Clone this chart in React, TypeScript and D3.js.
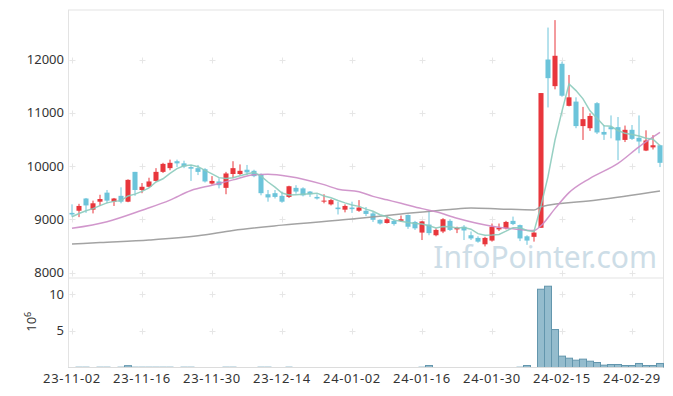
import React from "react";
import * as d3 from "d3";

// ---- data ----
const tickLabels = ["23-11-02","23-11-16","23-11-30","23-12-14","24-01-02","24-01-16","24-01-30","24-02-15","24-02-29"];
const tickEvery = 10;

const opens = [9120,9160,9390,9180,9330,9500,9330,9440,9330,9890,9550,9610,9720,9890,9960,10090,10050,9980,9960,9940,9670,9710,9590,9850,9850,9930,9910,9840,9470,9490,9440,9420,9590,9580,9520,9420,9340,9280,9220,9180,9220,9160,9160,9110,8990,8930,8970,8970,9080,8950,8750,8900,8700,8770,8970,8810,8860,8700,8650,8530,8600,8810,8830,8970,8890,8680,8670,8840,12000,11500,11920,11130,11210,10750,10710,11180,10640,10730,10730,10490,10680,10530,10290,10350,10390];
const highs = [9280,9290,9400,9350,9460,9550,9400,9600,9750,9890,9680,9780,9960,10060,10120,10120,10100,10020,10020,9960,9810,9770,9890,10090,10030,10020,9930,9860,9550,9550,9520,9630,9640,9600,9530,9470,9470,9380,9330,9280,9330,9360,9230,9140,9000,9060,9000,9070,9090,8970,8970,9160,8830,9020,9000,8860,8890,8770,8680,8670,8920,8920,8970,9050,8900,8700,8800,11370,12600,12740,11960,11710,11290,11110,10990,11200,10770,10950,10920,10760,10770,10950,10670,10580,10400];
const lows = [9050,9040,9120,9110,9250,9300,9250,9300,9320,9440,9490,9600,9710,9870,9920,9980,9960,9720,9830,9690,9650,9580,9470,9770,9830,9830,9790,9450,9330,9390,9310,9400,9480,9430,9420,9370,9300,9260,9090,9130,9120,9140,9060,8950,8900,8920,8880,8950,8820,8800,8610,8700,8680,8740,8780,8740,8610,8610,8560,8490,8580,8780,8810,8890,8590,8520,8580,8840,11100,11440,11300,11120,10710,10490,10660,10600,10490,10520,10110,10450,10490,10240,10280,10310,9980];
const closes = [9090,9250,9260,9300,9380,9350,9390,9330,9740,9550,9610,9710,9890,10040,10060,10050,9990,9950,9890,9710,9720,9640,9860,9960,9910,9880,9810,9490,9410,9420,9330,9620,9520,9450,9470,9390,9350,9360,9190,9250,9190,9220,9100,8990,8920,9000,8910,9000,8860,8830,8960,8740,8800,9000,8800,8840,8790,8640,8580,8650,8860,8840,8950,8910,8640,8600,8750,11370,11650,12070,11320,11290,10750,10880,10940,10630,10590,10690,10480,10680,10510,10460,10480,10390,10060];
// closes of the 4 sessions before the window (for the 5-day average)
const prevCloses = [8950,9000,9100,9100];
// volume, millions of shares
const volumes = [0.06,0.13,0.13,0.05,0.13,0.13,0.06,0.13,0.25,0.13,0.13,0.13,0.13,0.13,0.13,0.06,0.13,0.13,0.05,0.06,0.05,0.06,0.13,0.13,0.05,0.04,0.05,0.13,0.13,0.05,0.04,0.13,0.05,0.04,0.05,0.04,0.03,0.04,0.05,0.04,0.03,0.04,0.05,0.04,0.03,0.04,0.03,0.04,0.05,0.04,0.13,0.27,0.05,0.04,0.05,0.04,0.03,0.04,0.05,0.04,0.05,0.04,0.05,0.06,0.13,0.27,0.06,10.68,11.09,5.18,1.55,1.27,1.0,1.14,0.86,0.68,0.32,0.41,0.41,0.27,0.27,0.55,0.27,0.27,0.55];
// 20-day and 60-day moving averages: [session index, value]
const ma20Points: [number, number][] = [[0,8830],[5,8955],[10,9170],[14,9360],[17,9540],[20,9640],[23,9740],[26,9835],[28,9845],[31,9805],[36,9650],[38,9565],[41,9515],[43,9430],[45,9365],[47,9300],[50,9200],[52,9140],[55,9020],[60,8870],[63,8820],[66,8790],[67,8880],[69,9200],[71,9500],[74,9770],[78,10050],[81,10360],[84,10630]];
const ma60Points: [number, number][] = [[0,8535],[4,8563],[11,8610],[18,8690],[23,8790],[30,8890],[40,9005],[47,9100],[54,9185],[57,9211],[61,9195],[66,9174],[67,9235],[75,9360],[84,9530]];

const priceTicks = [8000, 9000, 10000, 11000, 12000];
const volTicks = [5, 10];

const W = 673, H = 396;
const L = 68.5, R = 663.5, PT = 10, PB = 278, VB = 367.5;

export default function App() {
  const n = closes.length;
  const x = d3.scaleBand<number>().domain(d3.range(n)).range([L, R]).padding(0);
  const cx = (i: number) => (x(i) as number) + x.bandwidth() / 2;
  const bw = x.bandwidth() * 0.72;
  const y = d3.scaleLinear().domain([7897, 12930]).range([PB, PT]);
  const yv = d3.scaleLinear().domain([0, (VB - PB) / 7.33]).range([VB, PB]);

  const all = prevCloses.concat(closes);
  const ma5 = closes.map((_, i) => d3.mean(all.slice(i, i + 5)) as number);

  const line = d3.line<[number, number]>().x(d => cx(d[0])).y(d => y(d[1]));
  const smooth = d3.line<[number, number]>().x(d => cx(d[0])).y(d => y(d[1])).curve(d3.curveMonotoneX);

  const red = "#e8363c", blue = "#6cc4da";
  const font = "'Noto Sans', 'DejaVu Sans', sans-serif";
  const gridC = "#e6e6e6";

  const tickIdx = tickLabels.map((_, k) => k * tickEvery);
  const cross = (px: number, py: number, key: string) => (
    <g key={key} stroke={gridC} strokeWidth={1}>
      <line x1={px - 3} x2={px + 3} y1={py} y2={py} />
      <line x1={px} x2={px} y1={py - 3} y2={py + 3} />
    </g>
  );

  return (
    <svg width={W} height={H} style={{ position: "absolute", left: 0, top: 0, background: "#fff" }} fontFamily={font}>
      {/* frames */}
      <rect x={L} y={PT} width={R - L} height={VB - PT} fill="none" stroke="#e3e3e3" />
      <line x1={L} x2={R} y1={PB} y2={PB} stroke="#e3e3e3" />
      {/* grid crosses */}
      {tickIdx.map(i => priceTicks.map(v => cross(Math.round(cx(i)) + 0.5, Math.round(y(v)) + 0.5, `p${i}-${v}`)))}
      {tickIdx.map(i => volTicks.map(v => cross(Math.round(cx(i)) + 0.5, Math.round(yv(v)) + 0.5, `v${i}-${v}`)))}
      {/* watermark */}
      <text x={657} y={268} textAnchor="end" fontSize={30} fill="#c5d8e3" opacity={0.85}>InfoPointer.com</text>
      {/* candles */}
      {closes.map((c, i) => {
        const o = opens[i];
        const col = c >= o ? red : blue;
        const top = y(Math.max(o, c));
        const bot = y(Math.min(o, c));
        return (
          <g key={i}>
            <line x1={cx(i)} x2={cx(i)} y1={y(highs[i])} y2={y(lows[i])} stroke={col} strokeWidth={1} />
            <rect x={cx(i) - bw / 2} y={top} width={bw} height={Math.max(1, bot - top)} fill={col} />
          </g>
        );
      })}
      {/* moving averages */}
      <path d={smooth(ma60Points) || ""} fill="none" stroke="#999" strokeWidth={1.5} opacity={0.9} />
      <path d={smooth(ma20Points) || ""} fill="none" stroke="#cc8cc6" strokeWidth={1.5} opacity={0.9} />
      <path d={line(ma5.map((v, i) => [i, v] as [number, number])) || ""} fill="none" stroke="#8ccbbd" strokeWidth={1.5} opacity={0.9} />
      {/* volume */}
      {volumes.map((v, i) => {
        const h = VB - yv(v);
        return (
          <rect key={i} x={x(i) as number} y={yv(v)} width={x.bandwidth()} height={h}
            fill="#94bccd" stroke={h > 1 ? "#6396ad" : "none"} strokeWidth={1} />
        );
      })}
      <line x1={L} x2={R} y1={VB} y2={VB} stroke="#dcdcdc" />
      {/* price axis labels */}
      {priceTicks.map(v => (
        <text key={v} x={64} y={y(v)} dy="0.35em" textAnchor="end" fontSize={13} fill="#333">{v}</text>
      ))}
      {volTicks.map(v => (
        <text key={v} x={64} y={yv(v)} dy="0.35em" textAnchor="end" fontSize={13} fill="#333">{v}</text>
      ))}
      <text transform={`translate(36,${(PB + VB) / 2 - 1}) rotate(-90)`} textAnchor="middle" fontSize={13} fill="#333">
        10<tspan dy={-5} fontSize={9}>6</tspan>
      </text>
      {/* x labels */}
      {tickIdx.map((i, k) => (
        <text key={i} x={cx(i)} y={383} textAnchor="middle" fontSize={13} fill="#333" letterSpacing={0.6}>{tickLabels[k]}</text>
      ))}
    </svg>
  );
}
